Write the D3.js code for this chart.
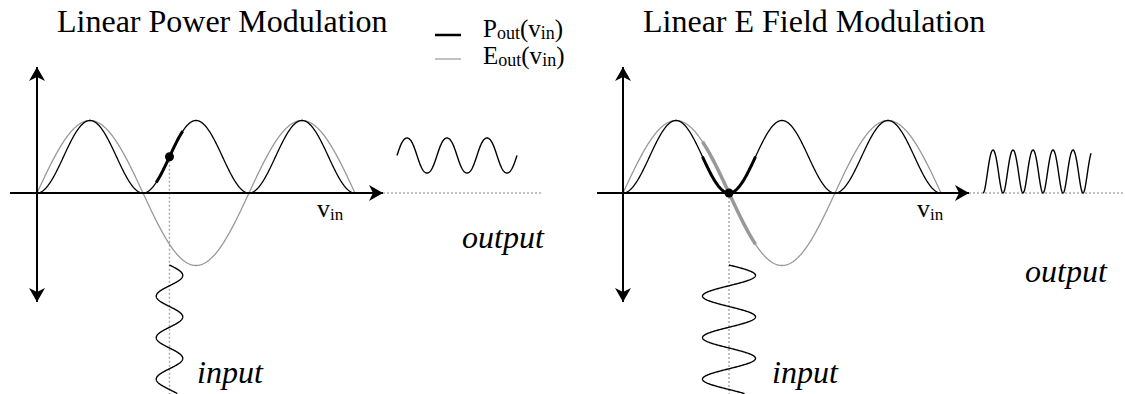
<!DOCTYPE html>
<html>
<head>
<meta charset="utf-8">
<script src="https://cdn.jsdelivr.net/npm/d3@7"></script>
<style>
  html, body { margin: 0; padding: 0; background: #fff; }
  svg { display: block; }
  text { font-family: "Liberation Serif", "Times New Roman", serif; fill: #000; }
</style>
</head>
<body>
<svg id="fig" width="1125" height="394"></svg>
<script>
// Panel content
const panelTitles = ["Linear Power Modulation", "Linear E Field Modulation"];
// Bias point and drive amplitude of the input, in units of π on the v_in axis
const biasPoint = [1.25, 1.0];
const inputAmplitude = [0.125, 0.25];
// Number of drive cycles shown for input and output traces
const inputCycles = [3.1, 3.1];
const outputCycles = [3, 2.7];
// Which transfer curves get the swept-range highlight
const highlightP = [true, true];
const highlightE = [false, true];
// v_in range of the transfer curves, in units of π
const curveRange = [0, 3];
// Legend entries
const legendNames = ["P", "E"];
const legendSub = "out";
const axisLabel = "v";
const axisSub = "in";
const inputLabel = "input";
const outputLabel = "output";

const PI = Math.PI;
const P = v => Math.sin(v) ** 2;   // output power
const E = v => Math.sin(v);        // output field

const svg = d3.select("#fig");
const defs = svg.append("defs");
defs.append("marker")
  .attr("id", "arrow")
  .attr("viewBox", "0 0 16 16")
  .attr("refX", 15).attr("refY", 8)
  .attr("markerWidth", 16).attr("markerHeight", 16)
  .attr("markerUnits", "userSpaceOnUse")
  .attr("orient", "auto")
  .append("path")
  .attr("d", "M15,8 L1,0 L5,8 L1,16 Z")
  .attr("fill", "#000");

// Layout of the two panels
const origins = [37, 623];
const axisY = 193;
const axisLeft = [10, 597];
const axisRight = [383, 969];
const dotEnd = [543, 1125];
const titleX = [57, 643];
const labelX = [317, 917];
const inputLabelX = [197, 772];
const outputLabelPos = [[462, 248], [1025, 282]];
const outputBand = [[138, 173], [150, 193]];
const outputStart = 360;      // offset of output trace from panel origin
const pxPerCycle = 40;         // time scale of output trace
const inputTop = 265;
const pxPerCycleIn = 41.5;

const x = d3.scaleLinear().domain([0, 3 * PI]).range([0, 318]);
const y = d3.scaleLinear().domain([-1, 1]).range([72.5, -72.5]);
const line = d3.line().x(d => d[0]).y(d => d[1]).curve(d3.curveLinear);

const vSamples = d3.range(0, 601).map(i => curveRange[0] * PI + (curveRange[1] - curveRange[0]) * PI * i / 600);

panelTitles.forEach((title, k) => {
  const g = svg.append("g").attr("transform", `translate(${origins[k]},${axisY})`);
  const ox = origins[k];

  svg.append("text")
    .attr("x", titleX[k]).attr("y", 32)
    .attr("font-size", 32)
    .text(title);

  const bias = biasPoint[k] * PI;
  const amp = inputAmplitude[k] * PI;

  // dotted guides
  g.append("line")
    .attr("x1", x(bias)).attr("x2", x(bias))
    .attr("y1", y(P(bias)) + 4).attr("y2", 394 - axisY)
    .attr("stroke", "#aaa").attr("stroke-width", 1.5).attr("stroke-dasharray", "2,2");
  g.append("line")
    .attr("x1", axisRight[k] - ox).attr("x2", dotEnd[k] - ox)
    .attr("y1", 0).attr("y2", 0)
    .attr("stroke", "#aaa").attr("stroke-width", 1.5).attr("stroke-dasharray", "2,2");

  // transfer curves
  g.append("path")
    .attr("d", line(vSamples.map(v => [x(v), y(E(v))])))
    .attr("fill", "none").attr("stroke", "#999").attr("stroke-width", 1.3);
  g.append("path")
    .attr("d", line(vSamples.map(v => [x(v), y(P(v))])))
    .attr("fill", "none").attr("stroke", "#000").attr("stroke-width", 1.3);

  // swept range of the drive on each curve
  const swept = d3.range(0, 101).map(i => bias - amp + 2 * amp * i / 100);
  if (highlightE[k]) {
    g.append("path")
      .attr("d", line(swept.map(v => [x(v), y(E(v))])))
      .attr("fill", "none").attr("stroke", "#999").attr("stroke-width", 3.5);
  }
  if (highlightP[k]) {
    g.append("path")
      .attr("d", line(swept.map(v => [x(v), y(P(v))])))
      .attr("fill", "none").attr("stroke", "#000").attr("stroke-width", 3);
  }

  // axes
  g.append("line")
    .attr("x1", axisLeft[k] - ox).attr("x2", axisRight[k] - ox)
    .attr("y1", 0).attr("y2", 0)
    .attr("stroke", "#000").attr("stroke-width", 2)
    .attr("marker-end", "url(#arrow)");
  g.append("line")
    .attr("x1", 0).attr("x2", 0).attr("y1", 0).attr("y2", 67 - axisY)
    .attr("stroke", "#000").attr("stroke-width", 2)
    .attr("marker-end", "url(#arrow)");
  g.append("line")
    .attr("x1", 0).attr("x2", 0).attr("y1", 0).attr("y2", 302 - axisY)
    .attr("stroke", "#000").attr("stroke-width", 2)
    .attr("marker-end", "url(#arrow)");

  // bias point
  g.append("circle")
    .attr("cx", x(bias)).attr("cy", y(P(bias)))
    .attr("r", 4.5).attr("fill", "#000");

  // input drive, time running downward
  const tIn = d3.range(0, 401).map(i => inputCycles[k] * i / 400);
  const ty = d3.scaleLinear().domain([0, 1]).range([inputTop - axisY, inputTop - axisY + pxPerCycleIn]);
  g.append("path")
    .attr("d", line(tIn.map(t => [x(bias + amp * Math.sin(2 * PI * t)), ty(t)])))
    .attr("fill", "none").attr("stroke", "#000").attr("stroke-width", 1.4);

  // output power, time running to the right
  const tOut = d3.range(0, 401).map(i => outputCycles[k] * i / 400);
  const outVals = tOut.map(t => P(bias + amp * Math.sin(2 * PI * t)));
  const tx = d3.scaleLinear().domain([0, 1]).range([outputStart, outputStart + pxPerCycle]);
  const oy = d3.scaleLinear().domain(d3.extent(outVals))
    .range([outputBand[k][1] - axisY, outputBand[k][0] - axisY]);
  g.append("path")
    .attr("d", line(tOut.map((t, i) => [tx(t), oy(outVals[i])])))
    .attr("fill", "none").attr("stroke", "#000").attr("stroke-width", 1.4);

  // labels
  const vl = svg.append("text").attr("x", labelX[k]).attr("y", 217).attr("font-size", 26);
  vl.append("tspan").text(axisLabel);
  vl.append("tspan").attr("font-size", 17).attr("dy", 3).text(axisSub);

  svg.append("text")
    .attr("x", inputLabelX[k]).attr("y", 383)
    .attr("font-size", 32).attr("font-style", "italic")
    .text(inputLabel);
  svg.append("text")
    .attr("x", outputLabelPos[k][0]).attr("y", outputLabelPos[k][1])
    .attr("font-size", 32).attr("font-style", "italic")
    .text(outputLabel);
});

// legend
const legendY = [35, 59];
const legendStroke = [["#000", 2.5], ["#999", 1.2]];
const legendBase = [37, 64];
legendNames.forEach((name, i) => {
  svg.append("line")
    .attr("x1", 435).attr("x2", 461)
    .attr("y1", legendY[i]).attr("y2", legendY[i])
    .attr("stroke", legendStroke[i][0]).attr("stroke-width", legendStroke[i][1]);
  const t = svg.append("text").attr("x", 483).attr("y", legendBase[i]).attr("font-size", 25);
  t.append("tspan").text(name);
  t.append("tspan").attr("font-size", 18).attr("dy", 2).text(legendSub);
  t.append("tspan").attr("dy", -2).text("(" + axisLabel);
  t.append("tspan").attr("font-size", 18).attr("dy", 2).text(axisSub);
  t.append("tspan").attr("dy", -2).text(")");
});
</script>
</body>
</html>
